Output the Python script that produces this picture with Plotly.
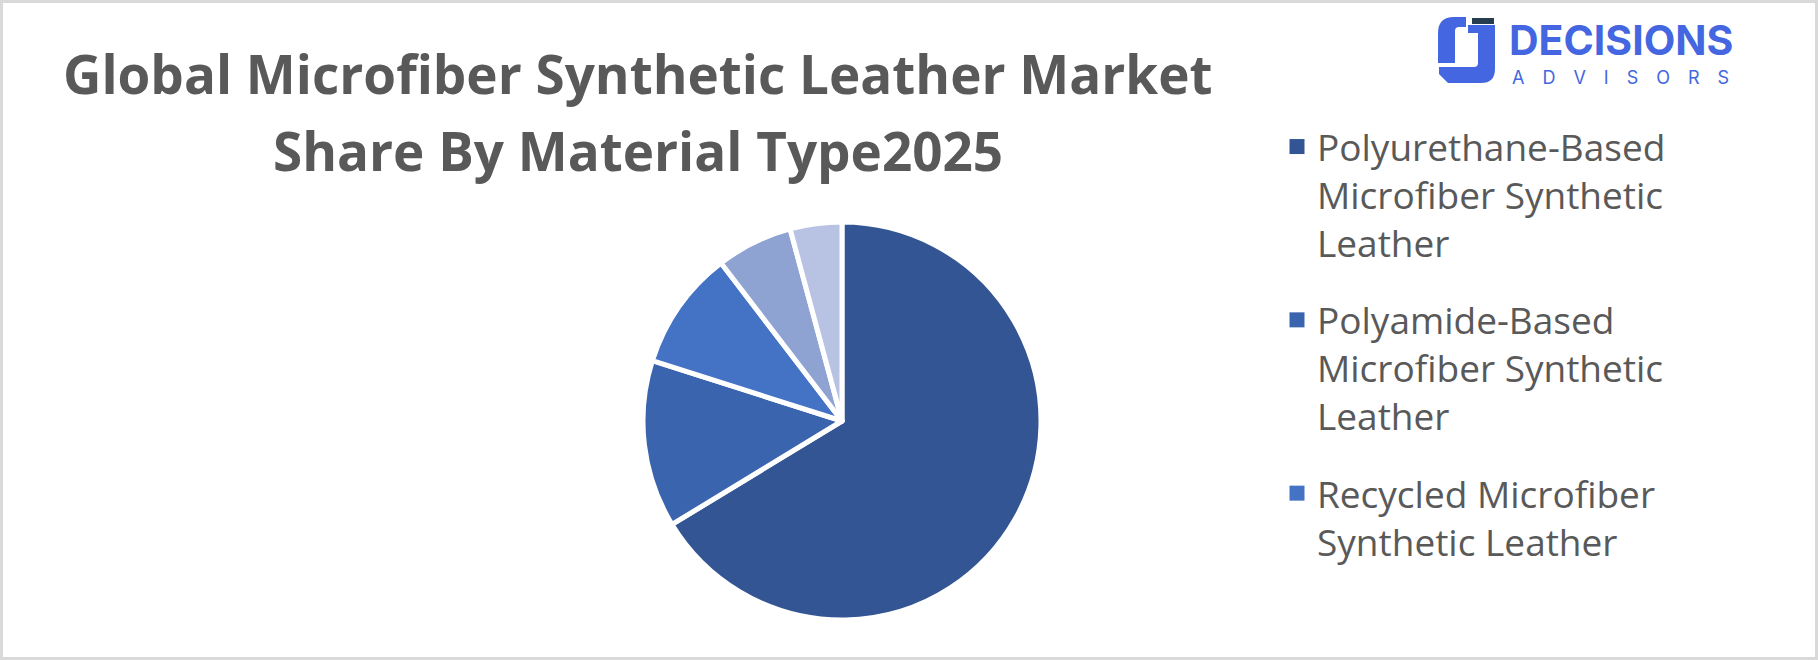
import plotly.graph_objects as go

W, H = 1818, 660

# ---- data ----
categories = [
    "Polyurethane-Based Microfiber Synthetic Leather",
    "Polyamide-Based Microfiber Synthetic Leather",
    "Recycled Microfiber Synthetic Leather",
    "Bio-Based Microfiber Synthetic Leather",
    "Other Microfiber Synthetic Leather",
]
shares = [66.3, 13.6, 9.7, 6.2, 4.2]
slice_colors = ["#335593", "#3A64AD", "#4472C4", "#8FA3D3", "#B8C3E3"]
legend_labels = [
    "Polyurethane-Based<br>Microfiber Synthetic<br>Leather",
    "Polyamide-Based<br>Microfiber Synthetic<br>Leather",
    "Recycled Microfiber<br>Synthetic Leather",
]
title_lines = ["Global Microfiber Synthetic Leather Market", "Share By Material Type2025"]


def px(x):
    return x / W


def py(y):
    return 1 - y / H


fig = go.Figure()

# pie center (842,421), radius ~197 px
fig.add_trace(go.Pie(
    labels=categories,
    values=shares,
    sort=False,
    direction="clockwise",
    rotation=0,
    textinfo="none",
    hoverinfo="label+percent",
    marker=dict(colors=slice_colors, line=dict(color="white", width=5)),
    domain=dict(x=[px(842 - 199), px(842 + 199)], y=[py(421 + 199), py(421 - 199)]),
    showlegend=False,
))

# legend entries (only the first three appear in the reference legend)
for i, lab in enumerate(legend_labels):
    fig.add_trace(go.Scatter(
        x=[None], y=[None], mode="markers",
        name=lab, legendgroup=f"g{i}",
        marker=dict(symbol="square", size=15, color=slice_colors[i]),
        hoverinfo="skip",
    ))

fig.update_layout(
    width=W, height=H,
    margin=dict(l=0, r=0, t=0, b=0),
    paper_bgcolor="white",
    plot_bgcolor="white",
    xaxis=dict(visible=False),
    yaxis=dict(visible=False),
    legend=dict(
        x=px(1277), y=py(116), xanchor="left", yanchor="top",
        font=dict(family="Open Sans", size=37, color="#595959"),
        traceorder="grouped", tracegroupgap=26,
        valign="top",
        bgcolor="rgba(0,0,0,0)",
        itemsizing="trace",
    ),
)

# title (two lines)
for txt, yc in zip(title_lines, [73, 151]):
    fig.add_annotation(
        text=f"<b>{txt}</b>", x=px(638), y=py(yc), xref="paper", yref="paper",
        xanchor="center", yanchor="middle", showarrow=False,
        font=dict(family="Open Sans", size=53, color="#595959"),
    )

# logo
blue = "#4466E0"


def P(x, y):
    return f"{px(x):.5f},{py(y):.5f}"


left_piece = (f"M{P(1438,63)} L{P(1438,33)} Q{P(1438,17)} {P(1454,17)} L{P(1466,17)} "
              f"L{P(1466,27)} L{P(1459,27)} Q{P(1455,27)} {P(1455,31)} L{P(1455,63)} Z")
right_piece = (f"M{P(1439,74)} L{P(1448,83)} L{P(1481,83)} Q{P(1495,83)} {P(1495,69)} "
               f"L{P(1495,25)} L{P(1468,25)} L{P(1468,33)} L{P(1478,33)} L{P(1478,63)} "
               f"Q{P(1478,67)} {P(1474,67)} L{P(1439,67)} Z")
fig.add_shape(type="path", path=left_piece, xref="paper", yref="paper",
              fillcolor=blue, line=dict(width=0))
fig.add_shape(type="path", path=right_piece, xref="paper", yref="paper",
              fillcolor=blue, line=dict(width=0))
fig.add_shape(type="rect", x0=px(1472), x1=px(1494), y0=py(24), y1=py(18),
              xref="paper", yref="paper", fillcolor="#263D4F", line=dict(width=0))

fig.add_annotation(
    text="<b>DECISIONS</b>", x=px(1507), y=py(40), xref="paper", yref="paper",
    xanchor="left", yanchor="middle", showarrow=False,
    font=dict(family="Inter", size=41, color=blue),
)
fig.add_annotation(
    text="\u2003".join("ADVISORS"), x=px(1510), y=py(77), xref="paper", yref="paper",
    xanchor="left", yanchor="middle", showarrow=False,
    font=dict(family="Inter", size=18, color=blue),
)

# outer border
fig.add_shape(type="rect", x0=px(1.5), x1=px(W - 1.5), y0=py(H - 1.5), y1=py(1.5),
              xref="paper", yref="paper", line=dict(color="#D9D9D9", width=3),
              fillcolor="rgba(0,0,0,0)")

fig.write_html(
    "out.html",
    config={"displayModeBar": False},
    post_script="document.body.style.margin='0';document.body.style.overflow='hidden';",
)
